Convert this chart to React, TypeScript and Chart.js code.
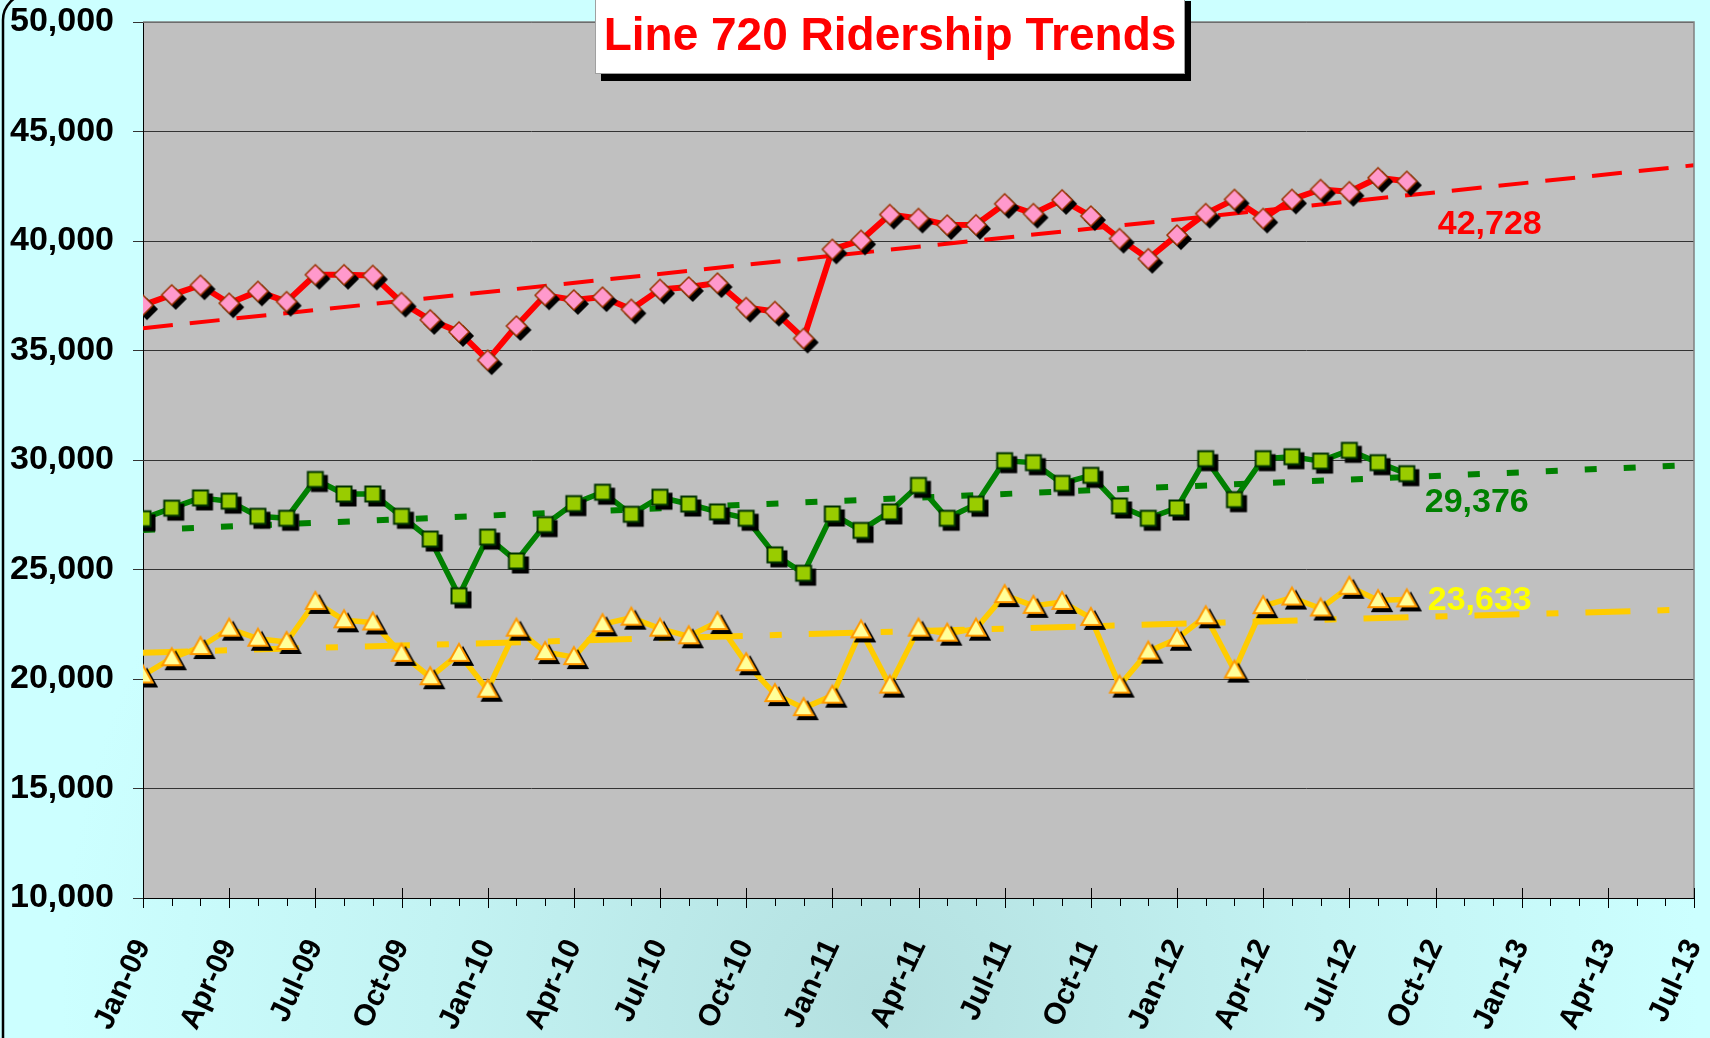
import React, { useEffect, useRef } from 'react';
import { Chart, registerables } from 'chart.js';

Chart.register(...registerables);

const FONT = "'Liberation Sans', Arial, Helvetica, sans-serif";

// Month index 0 = Jan-09 ... 54 = Jul-13; labels every 3 months
const tickLabels = [
  'Jan-09', 'Apr-09', 'Jul-09', 'Oct-09', 'Jan-10', 'Apr-10', 'Jul-10', 'Oct-10',
  'Jan-11', 'Apr-11', 'Jul-11', 'Oct-11', 'Jan-12', 'Apr-12', 'Jul-12', 'Oct-12',
  'Jan-13', 'Apr-13', 'Jul-13',
];
const lastMonthIndex = 54;

const weekdayRiders = [
  37070, 37540, 37980, 37160, 37700, 37230, 38460, 38460, 38430, 37190, 36400, 35850,
  34560, 36120, 37520, 37310, 37440, 36880, 37790, 37900, 38080, 36960, 36780, 35550,
  39620, 40030, 41210, 41030, 40730, 40740, 41700, 41250, 41880, 41140, 40110, 39190,
  40270, 41250, 41900, 41030, 41900, 42350, 42250, 42890, 42728,
];
const saturdayRiders = [
  27320, 27800, 28270, 28120, 27430, 27340, 29110, 28450, 28450, 27430, 26390, 23800,
  26480, 25390, 27050, 28010, 28530, 27520, 28300, 27990, 27630, 27340, 25670, 24830,
  27535, 26785, 27630, 28840, 27340, 27980, 29970, 29880, 28930, 29300, 27900, 27340,
  27810, 30060, 28190, 30060, 30150, 29950, 30440, 29880, 29376,
];
const sundayRiders = [
  20160, 20950, 21460, 22300, 21840, 21690, 23520, 22680, 22580, 21150, 20080, 21150,
  19510, 22300, 21230, 21000, 22500, 22800, 22300, 21950, 22600, 20720, 19310, 18670,
  19240, 22220, 19700, 22300, 22070, 22300, 23830, 23340, 23520, 22790, 19700, 21250,
  21840, 22865, 20385, 23325, 23720, 23220, 24210, 23600, 23633,
];

// Linear trend lines: values at month 0 and month 54
const trendMonths = [0, 54];
const weekdayTrend = [36020, 43460];
const saturdayTrend = [26800, 29770];
const sundayTrend = [21200, 23180];

const titleText = 'Line 720 Ridership Trends';

type ShapeFn = (ctx: CanvasRenderingContext2D, cx: number, cy: number) => void;

function makeMarker(shape: ShapeFn, fill: string, stroke: string, lw: number): HTMLCanvasElement {
  const size = 44;
  const c = document.createElement('canvas');
  c.width = size;
  c.height = size;
  const ctx = c.getContext('2d')!;
  const m = size / 2;
  ctx.lineJoin = 'miter';
  // shadow
  shape(ctx, m + 4, m + 4);
  ctx.fillStyle = '#000';
  ctx.fill();
  ctx.lineWidth = lw;
  ctx.strokeStyle = '#000';
  ctx.stroke();
  // marker
  shape(ctx, m, m);
  ctx.fillStyle = fill;
  ctx.fill();
  ctx.lineWidth = lw;
  ctx.strokeStyle = stroke;
  ctx.stroke();
  return c;
}

const diamond: ShapeFn = (ctx, cx, cy) => {
  const r = 10;
  ctx.beginPath();
  ctx.moveTo(cx, cy - r);
  ctx.lineTo(cx + r, cy);
  ctx.lineTo(cx, cy + r);
  ctx.lineTo(cx - r, cy);
  ctx.closePath();
};
const square: ShapeFn = (ctx, cx, cy) => {
  const h = 7.5;
  ctx.beginPath();
  ctx.rect(cx - h, cy - h, 2 * h, 2 * h);
};
const triangle: ShapeFn = (ctx, cx, cy) => {
  ctx.beginPath();
  ctx.moveTo(cx, cy - 10);
  ctx.lineTo(cx + 9.5, cy + 7);
  ctx.lineTo(cx - 9.5, cy + 7);
  ctx.closePath();
};

const toPoints = (vals: number[]) => vals.map((v, i) => ({ x: i, y: v }));
const toTrend = (vals: number[]) => vals.map((v, i) => ({ x: trendMonths[i], y: v }));

const fmt = (v: number) => Number(v).toLocaleString('en-US');

const labelSpecs = [
  { ds: 0, color: '#FF0000', dx: 83, dy: 43 },
  { ds: 1, color: '#008000', dx: 70, dy: 29 },
  { ds: 2, color: '#FFFF00', dx: 73, dy: 1 },
];

const decorPlugin = {
  id: 'decor',
  beforeDraw(chart: any) {
    const { ctx, width, height, chartArea: a } = chart;
    ctx.save();
    const g = ctx.createRadialGradient(880, 1000, 0, 880, 1000, 820);
    g.addColorStop(0, '#B4E0E0');
    g.addColorStop(0.55, '#C3F3F3');
    g.addColorStop(1, '#CCFFFF');
    ctx.fillStyle = g;
    ctx.fillRect(0, 0, width, height);
    // rounded outer border (extends past the picture)
    const x0 = 3, y0 = -6, x1 = width + 30, y1 = height + 30, r = 26;
    ctx.beginPath();
    ctx.moveTo(x0 + r, y0);
    ctx.lineTo(x1, y0);
    ctx.lineTo(x1, y1);
    ctx.lineTo(x0, y1);
    ctx.lineTo(x0, y0 + r);
    ctx.arcTo(x0, y0, x0 + r, y0, r);
    ctx.closePath();
    ctx.lineWidth = 2.5;
    ctx.strokeStyle = '#000';
    ctx.stroke();
    // plot area
    ctx.fillStyle = '#C0C0C0';
    ctx.fillRect(a.left, a.top, a.right - a.left, a.bottom - a.top);
    ctx.restore();
  },
  afterDraw(chart: any) {
    const { ctx, chartArea: a } = chart;
    const xs = chart.scales.x;
    ctx.save();
    // plot top / right border
    ctx.strokeStyle = '#808080';
    ctx.lineWidth = 1.5;
    ctx.beginPath();
    ctx.moveTo(a.left, a.top);
    ctx.lineTo(a.right, a.top);
    ctx.lineTo(a.right, a.bottom);
    ctx.stroke();
    // x tick marks: major every 3 months crossing the axis, minor monthly below
    ctx.strokeStyle = '#000';
    ctx.lineWidth = 1;
    for (let i = 0; i <= lastMonthIndex; i++) {
      const x = Math.round(xs.getPixelForValue(i)) + 0.5;
      ctx.beginPath();
      if (i % 3 === 0) {
        ctx.moveTo(x, a.bottom - 10);
        ctx.lineTo(x, a.bottom + 10);
      } else {
        ctx.moveTo(x, a.bottom);
        ctx.lineTo(x, a.bottom + 8);
      }
      ctx.stroke();
    }
    // end-of-series value labels
    ctx.font = `bold 34px ${FONT}`;
    ctx.textAlign = 'center';
    ctx.textBaseline = 'middle';
    labelSpecs.forEach((s) => {
      const meta = chart.getDatasetMeta(s.ds);
      const pts = meta.data;
      const p = pts[pts.length - 1];
      const vals = chart.data.datasets[s.ds].data;
      const v = vals[vals.length - 1].y;
      ctx.fillStyle = s.color;
      ctx.fillText(fmt(v), p.x + s.dx, p.y + s.dy);
    });
    // title box
    const bx = 595, by = -6, bw = 590, bh = 80;
    ctx.fillStyle = '#000';
    ctx.fillRect(bx + 6, by + 7, bw, bh);
    ctx.fillStyle = '#FFFFFF';
    ctx.fillRect(bx, by, bw, bh);
    ctx.strokeStyle = '#A0A0A0';
    ctx.lineWidth = 1;
    ctx.strokeRect(bx + 0.5, by + 0.5, bw - 1, bh - 1);
    ctx.fillStyle = '#FF0000';
    ctx.font = `bold 46px ${FONT}`;
    ctx.textAlign = 'center';
    ctx.textBaseline = 'alphabetic';
    ctx.fillText(titleText, bx + bw / 2, 49.5);
    ctx.restore();
  },
};

export default function App() {
  const ref = useRef<HTMLCanvasElement>(null);

  useEffect(() => {
    if (!ref.current) return;
    const redMarker = makeMarker(diamond, '#FF99CC', '#993300', 1.5);
    const greenMarker = makeMarker(square, '#99CC00', '#003300', 2);
    const yellowMarker = makeMarker(triangle, '#FFFF99', '#FF9900', 2);

    const chart = new Chart(ref.current, {
      type: 'line',
      data: {
        datasets: [
          {
            label: 'Weekday',
            data: toPoints(weekdayRiders),
            borderColor: '#FF0000',
            borderWidth: 6,
            borderJoinStyle: 'round',
            pointStyle: redMarker as any,
            pointRadius: 10,
            tension: 0,
          },
          {
            label: 'Saturday',
            data: toPoints(saturdayRiders),
            borderColor: '#008000',
            borderWidth: 5.5,
            borderJoinStyle: 'round',
            pointStyle: greenMarker as any,
            pointRadius: 10,
            tension: 0,
          },
          {
            label: 'Sunday',
            data: toPoints(sundayRiders),
            borderColor: '#FFCC00',
            borderWidth: 5.5,
            borderJoinStyle: 'round',
            pointStyle: yellowMarker as any,
            pointRadius: 10,
            tension: 0,
          },
          {
            label: 'Weekday trend',
            data: toTrend(weekdayTrend),
            borderColor: '#FF0000',
            borderWidth: 4,
            borderDash: [30, 17],
            pointRadius: 0,
          },
          {
            label: 'Saturday trend',
            data: toTrend(saturdayTrend),
            borderColor: '#008000',
            borderWidth: 6,
            borderDash: [12, 27],
            pointRadius: 0,
          },
          {
            label: 'Sunday trend',
            data: toTrend(sundayTrend),
            borderColor: '#FFCC00',
            borderWidth: 6,
            borderDash: [45, 27, 12, 27],
            pointRadius: 0,
          },
        ],
      },
      options: {
        responsive: false,
        animation: false,
        devicePixelRatio: 1,
        layout: { padding: { top: 22, right: 16, bottom: 0, left: 0 } },
        plugins: {
          legend: { display: false },
          tooltip: { enabled: false },
          title: { display: false },
        },
        scales: {
          x: {
            type: 'linear',
            min: 0,
            max: lastMonthIndex,
            afterFit: (s: any) => {
              s.height = 140;
              s.paddingLeft = 0;
              s.paddingRight = 0;
            },
            ticks: {
              stepSize: 3,
              autoSkip: false,
              minRotation: 65,
              maxRotation: 65,
              padding: 36,
              color: '#000',
              font: { family: FONT, size: 30, weight: 'bold' },
              callback: (v: any) => {
                const n = Number(v);
                return n % 3 === 0 ? tickLabels[n / 3] ?? '' : '';
              },
            },
            grid: { display: false, drawTicks: false },
            border: { display: true, color: '#000', width: 1 },
          },
          y: {
            min: 10000,
            max: 50000,
            afterFit: (s: any) => {
              s.width = 143;
              s.paddingTop = 0;
              s.paddingBottom = 0;
            },
            ticks: {
              stepSize: 5000,
              padding: 19,
              color: '#000',
              font: { family: FONT, size: 34, weight: 'bold' },
              callback: (v: any) => fmt(v),
            },
            grid: { color: '#333333', lineWidth: 1, drawTicks: true, tickLength: 10 },
            border: { display: true, color: '#000', width: 1 },
          },
        },
      },
      plugins: [decorPlugin],
    });
    return () => chart.destroy();
  }, []);

  return (
    <div style={{ position: 'fixed', left: 0, top: 0, width: 1710, height: 1038 }}>
      <canvas ref={ref} width={1710} height={1038} style={{ display: 'block' }} />
    </div>
  );
}
